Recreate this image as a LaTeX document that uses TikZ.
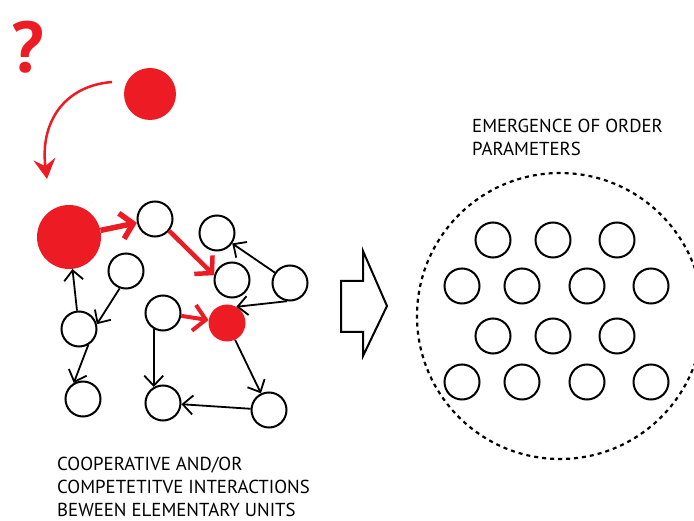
\documentclass[tikz,border=0pt]{standalone}
\usepackage{fontspec}
\setmainfont{PT Sans}
\usetikzlibrary{arrows.meta}
\definecolor{myred}{HTML}{ED1C24}
\begin{document}
\begin{tikzpicture}[x=1pt,y=-1pt,
  unit/.style={circle, draw=black, line width=2pt, minimum size=35pt, inner sep=0pt},
  redunit/.style={circle, fill=myred, draw=none, inner sep=0pt},
  blk/.style={line width=1.8pt, -{Straight Barb[length=10pt,width=19pt]}},
  rd/.style={draw=myred, line width=4.5pt, -{Straight Barb[length=12pt,width=26pt]}},
  curvearrow/.style={draw=myred, line width=2.5pt, -{Stealth[length=20pt,width=22pt,inset=7pt]}},
  label/.style={anchor=north west, inner sep=0pt, align=left, font=\fontsize{18.8}{23}\selectfont}
]
\useasboundingbox (0,0) rectangle (694,521);

% question mark, ball and curved arrow
\node[text=myred, font=\bfseries\fontsize{72}{72}\selectfont, inner sep=0pt] (q) at (28,47) {?};
\node[redunit, minimum size=52pt] (ball) at (150,94) {};
\coordinate (cs) at (112,82);
\coordinate (ce) at (47,179);
\draw[curvearrow] (cs) .. controls (62,86) and (40,125) .. (ce);

% network
\node[redunit, minimum size=64pt] (R) at (69,237) {};
\node[unit] (A) at (155,219) {};
\node[unit] (B) at (217,233) {};
\node[unit] (C) at (232,280) {};
\node[unit] (D) at (290,283) {};
\node[unit] (E) at (126,271) {};
\node[unit] (F) at (79,329) {};
\node[unit] (G) at (163,313) {};
\node[redunit, minimum size=37pt] (H) at (227,323) {};
\node[unit] (I) at (83,399) {};
\node[unit] (J) at (163,403) {};
\node[unit] (K) at (269,410) {};

\draw[rd, line width=5.5pt] (R) -- (A);
\draw[rd] (A.-40) -- (C.165);
\draw[rd, line width=4pt] (G) -- (H);
\draw[blk] (F) -- (R);
\draw[blk] (E.-110) -- (F.15);
\draw[blk] (F.-60) -- (I.120);
\draw[blk] (D) -- (B);
\draw[blk] (D.-100) -- (H.60);
\draw[blk] (H) -- (K);
\draw[blk] (K) -- (J);
\draw[blk] (G.-120) -- (J.120);

% block arrow
\draw[line width=2pt, line join=miter] (341,281) -- (363,281) -- (363,251) -- (387,306) -- (363,356) -- (363,332) -- (341,332) -- cycle;

% order parameters
\node[circle, draw, line width=2.2pt, dash pattern=on 4pt off 4pt, minimum size=286pt, inner sep=0pt] (order) at (560,316) {};
\foreach \n/\x/\y in {o1/493/240, o2/553/240, o3/617/240,
                     o4/462/286, o5/522/286, o6/587/286, o7/651/286,
                     o8/493/336, o9/553/336, o10/617/336,
                     o11/462/382, o12/522/382, o13/587/382, o14/651/382}
  \node[unit] (\n) at (\x,\y) {};

% labels
\node[label] (toptext) at (472,119) {EMERGENCE OF ORDER\\PARAMETERS};
\node[label] (bottomtext) at (57,457) {COOPERATIVE AND/OR\\COMPETETITVE INTERACTIONS\\BEWEEN ELEMENTARY UNITS};
\end{tikzpicture}
\end{document}
